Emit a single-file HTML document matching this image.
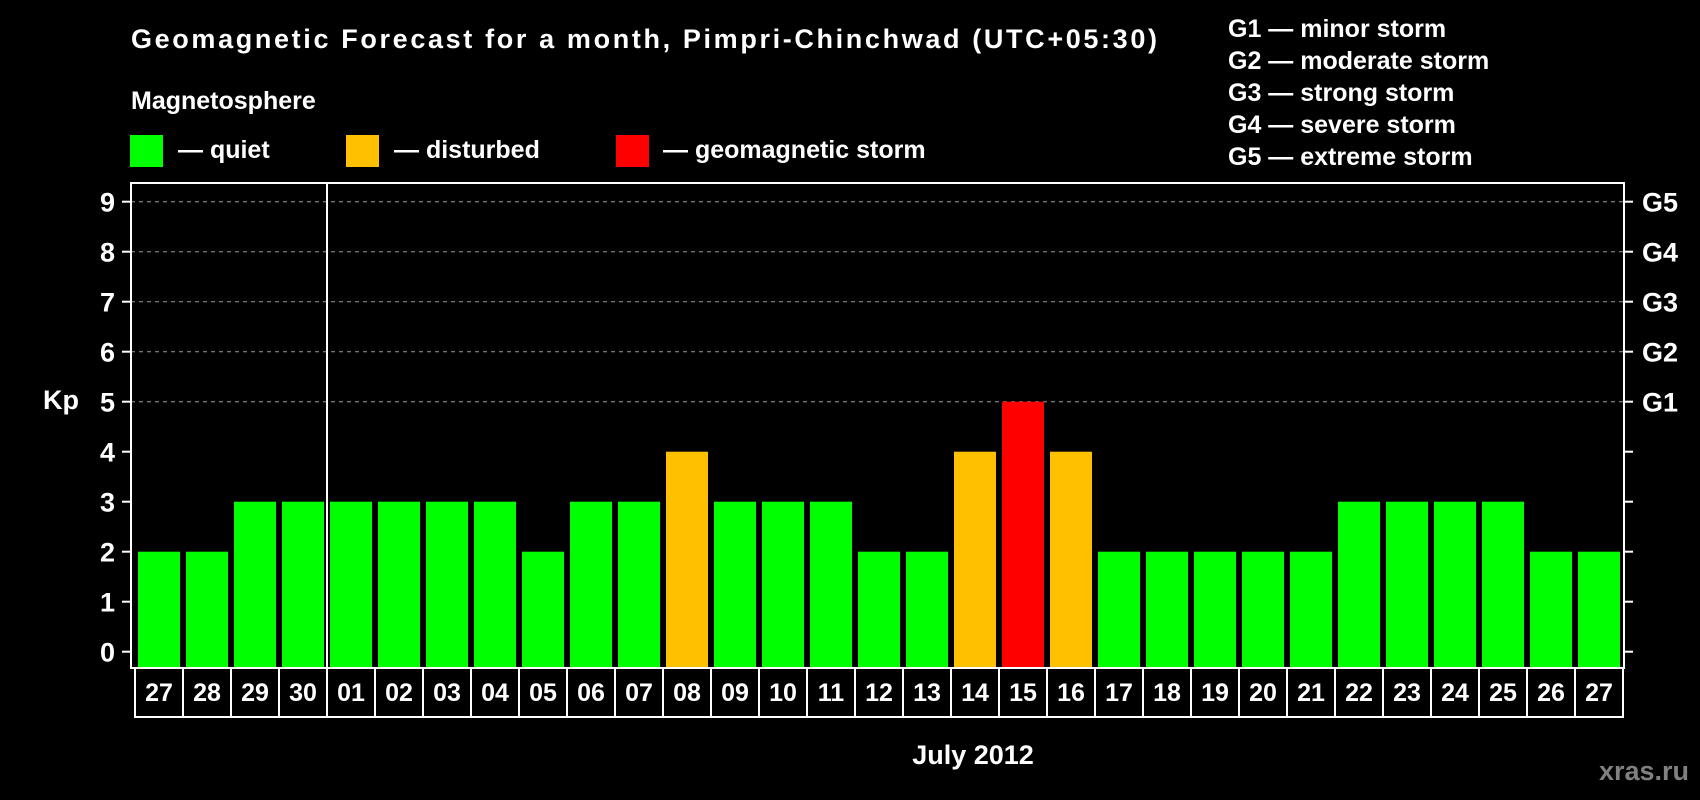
<!DOCTYPE html>
<html><head><meta charset="utf-8"><style>
html,body{margin:0;padding:0;background:#000;}
svg{display:block;font-family:"Liberation Sans",Arial,sans-serif;font-weight:bold;}
</style></head><body>
<svg id="chart" width="1700" height="800" viewBox="0 0 1700 800">
<text x="131" y="48" font-size="27" fill="#fff" textLength="1026">Geomagnetic Forecast for a month, Pimpri-Chinchwad (UTC+05:30)</text>
<text x="131" y="109" font-size="25" fill="#fff">Magnetosphere</text>
<g><rect x="130" y="135" width="33" height="32" fill="#00ff00"/><text x="178" y="158" font-size="25" fill="#fff">— quiet</text></g>
<g><rect x="346" y="135" width="33" height="32" fill="#ffc000"/><text x="394" y="158" font-size="25" fill="#fff">— disturbed</text></g>
<g><rect x="616" y="135" width="33" height="32" fill="#ff0000"/><text x="663" y="158" font-size="25" fill="#fff">— geomagnetic storm</text></g>
<g font-size="25" fill="#fff">
<text x="1228" y="37">G1 — minor storm</text>
<text x="1228" y="69">G2 — moderate storm</text>
<text x="1228" y="101">G3 — strong storm</text>
<text x="1228" y="133">G4 — severe storm</text>
<text x="1228" y="165">G5 — extreme storm</text>
</g>
<g id="grid"></g>
<g id="bars"></g>
<rect x="131" y="183" width="1493" height="485" fill="none" stroke="#fff" stroke-width="2"/>
<line x1="327" y1="183" x2="327" y2="668" stroke="#fff" stroke-width="2"/>
<g id="yaxis"></g>
<g id="xaxis"></g>
<text x="43" y="409" font-size="27" fill="#fff">Kp</text>
<text x="973" y="764" font-size="27" fill="#fff" text-anchor="middle">July 2012</text>
<text x="1689" y="780" font-size="27" fill="#808080" text-anchor="end">xras.ru</text>
</svg>
<script>
const days = ["27","28","29","30","01","02","03","04","05","06","07","08","09","10","11","12","13","14","15","16","17","18","19","20","21","22","23","24","25","26","27"];
const kp = [2,2,3,3,3,3,3,3,2,3,3,4,3,3,3,2,2,4,5,4,2,2,2,2,2,3,3,3,3,2,2];
const yTicks = [0,1,2,3,4,5,6,7,8,9];
const gLabels = ["G1","G2","G3","G4","G5"];
const gLevels = [5,6,7,8,9];
const NS="http://www.w3.org/2000/svg";
function y(v){return 651.7-v*50;}
function x(i){return 138+i*48;}
function mk(t,a,p){const e=document.createElementNS(NS,t);for(const k in a)e.setAttribute(k,a[k]);p.appendChild(e);return e;}
const grid=document.getElementById('grid'),bars=document.getElementById('bars'),ya=document.getElementById('yaxis'),xa=document.getElementById('xaxis');
yTicks.forEach(v=>{
  if(v>=5){const g=mk('line',{x1:131,x2:1624,y1:y(v),y2:y(v),stroke:'#999','stroke-dasharray':'4,4','stroke-width':1},grid);
  
  }
  mk('line',{x1:122,x2:131,y1:y(v),y2:y(v),stroke:'#fff','stroke-width':2},ya);
  mk('line',{x1:1624,x2:1633,y1:y(v),y2:y(v),stroke:'#fff','stroke-width':2},ya);
  const t=mk('text',{x:115,y:y(v)+10,'font-size':27,fill:'#fff','text-anchor':'end'},ya);
  t.textContent=v;
  
  
});
gLabels.forEach((g,i)=>{
  const t=mk('text',{x:1642,y:y(gLevels[i])+10,'font-size':27,fill:'#fff'},ya);
  t.textContent=g;
  
  
});
kp.forEach((v,i)=>{
  const c=v>=5?'#ff0000':(v>=4?'#ffc000':'#00ff00');
  const r=mk('rect',{x:x(i),y:y(v),width:42,height:668-y(v),fill:c},bars);
  
  
});
mk('rect',{x:135,y:668,width:1488,height:49,fill:'none',stroke:'#fff','stroke-width':2},xa);
days.forEach((d,i)=>{
  if(i>0)mk('line',{x1:135+i*48,x2:135+i*48,y1:668,y2:717,stroke:'#fff','stroke-width':2},xa);
  const t=mk('text',{x:135+i*48+24,y:701,'font-size':25,fill:'#fff','text-anchor':'middle'},xa);
  t.textContent=d;
  
  
});
</script>
</body></html>
